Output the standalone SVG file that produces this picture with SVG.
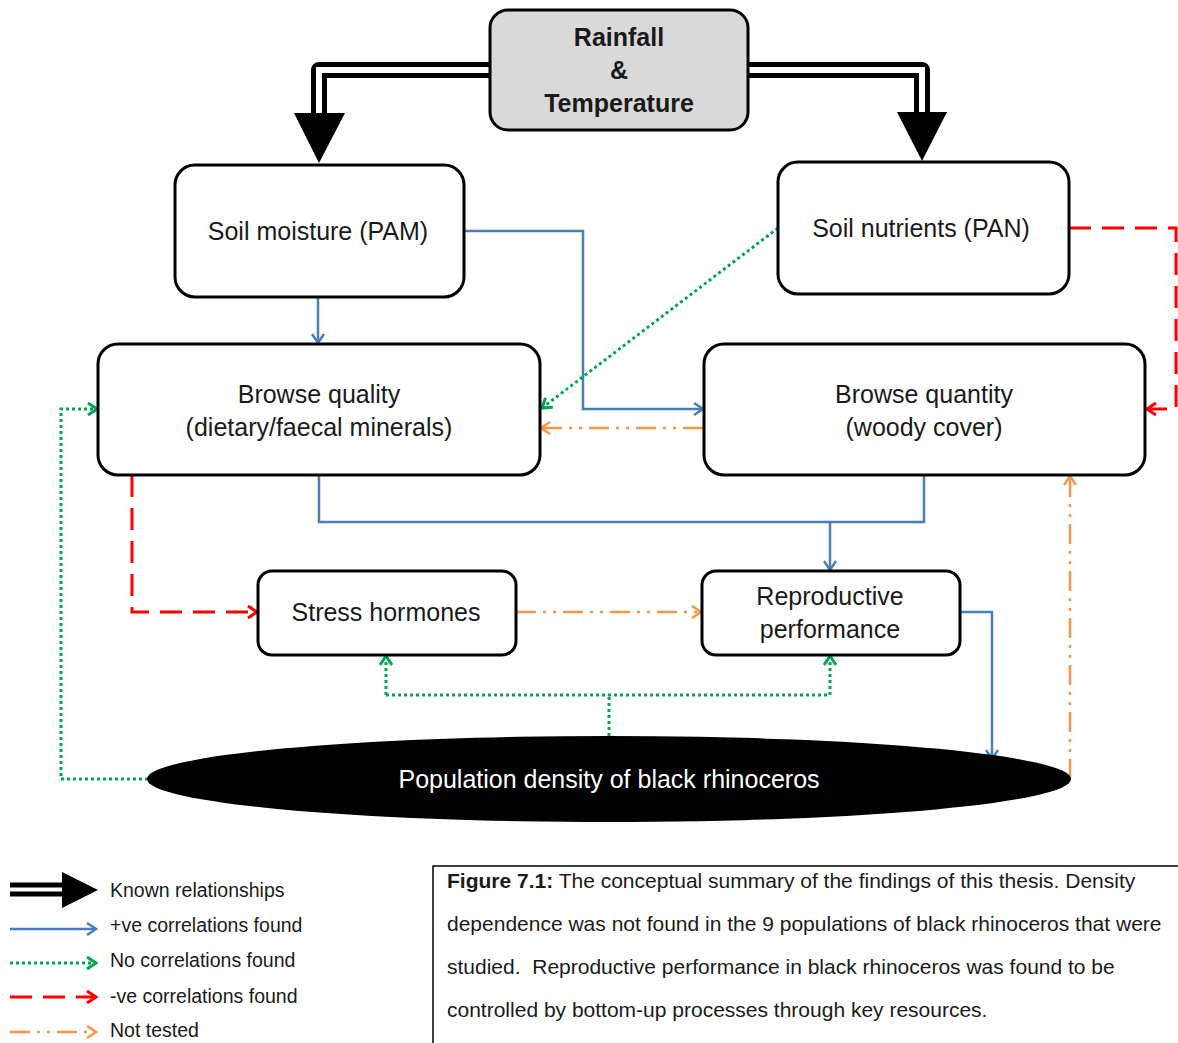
<svg xmlns="http://www.w3.org/2000/svg" width="1178" height="1043" viewBox="0 0 1178 1043">
<style>
.box{fill:#ffffff;stroke:#000;stroke-width:3}
.t{font-family:"Liberation Sans",Arial,sans-serif;font-size:25px;fill:#1a1a1a;text-anchor:middle}
.tb{font-family:"Liberation Sans",Arial,sans-serif;font-size:25px;font-weight:bold;fill:#1a1a1a;text-anchor:middle}
.lg{font-family:"Liberation Sans",Arial,sans-serif;font-size:19.5px;fill:#1a1a1a}
.cap{font-family:"Liberation Sans",Arial,sans-serif;font-size:21px;fill:#1a1a1a;white-space:pre}
.blue{fill:none;stroke:#4a7ebb;stroke-width:2.5}
.green{fill:none;stroke:#00a651;stroke-width:3;stroke-dasharray:3 3}
.red{fill:none;stroke:#ff0000;stroke-width:3;stroke-dasharray:22 11}
.orange{fill:none;stroke:#f79646;stroke-width:2.5;stroke-dasharray:20 7 3 7 3 7}
.dblo{fill:none;stroke:#000;stroke-width:16;stroke-linejoin:round}
.dbli{fill:none;stroke:#fff;stroke-width:6}
</style>
<defs>
<marker id="mB" markerUnits="userSpaceOnUse" viewBox="0 0 14 14" markerWidth="14" markerHeight="14" refX="12" refY="7" orient="auto"><path d="M3,1 L12,7 L3,13" fill="none" stroke="#4a7ebb" stroke-width="2.5"/></marker>
<marker id="mG" markerUnits="userSpaceOnUse" viewBox="0 0 14 14" markerWidth="14" markerHeight="14" refX="12" refY="7" orient="auto"><path d="M3,1 L12,7 L3,13" fill="none" stroke="#00a651" stroke-width="3"/></marker>
<marker id="mR" markerUnits="userSpaceOnUse" viewBox="0 0 14 14" markerWidth="14" markerHeight="14" refX="12" refY="7" orient="auto"><path d="M3,1 L12,7 L3,13" fill="none" stroke="#ff0000" stroke-width="3"/></marker>
<marker id="mO" markerUnits="userSpaceOnUse" viewBox="0 0 14 14" markerWidth="14" markerHeight="14" refX="12" refY="7" orient="auto"><path d="M3,1 L12,7 L3,13" fill="none" stroke="#f79646" stroke-width="2.5"/></marker>
</defs>
<rect width="1178" height="1043" fill="#ffffff"/>

<g id="connectors">
  <!-- known relationships -->
  <path class="dblo" d="M492,70 H319 V114"/>
  <path class="dbli" d="M492,70 H319 V114"/>
  <polygon points="294,113 345,113 319,163" fill="#000"/>
  <path class="dblo" d="M746,70 H922 V113"/>
  <path class="dbli" d="M746,70 H922 V113"/>
  <polygon points="897,112 947,112 922,161" fill="#000"/>
  <!-- blue -->
  <path class="blue" d="M318,297 V343" marker-end="url(#mB)"/>
  <path class="blue" d="M464,231 H583 V409 H703" marker-end="url(#mB)"/>
  <path class="blue" d="M319,475 V522 H924 V475"/>
  <path class="blue" d="M830,522 V570" marker-end="url(#mB)"/>
  <path class="blue" d="M960,612 H992 V759" marker-end="url(#mB)"/>
  <!-- green -->
  <path class="green" d="M778,228 L542,408" marker-end="url(#mG)"/>
  <path class="green" d="M148,779 H61 V409 H97" marker-end="url(#mG)"/>
  <path class="green" d="M609,736 V695"/>
  <path class="green" d="M386,695 H830"/>
  <path class="green" d="M386,695 V656" marker-end="url(#mG)"/>
  <path class="green" d="M830,695 V656" marker-end="url(#mG)"/>
  <!-- red -->
  <path class="red" d="M1069,228 H1176 V409 H1147" marker-end="url(#mR)"/>
  <path class="red" d="M132,475 V612 H257" marker-end="url(#mR)"/>
  <!-- orange -->
  <path class="orange" d="M703,428 H541" marker-end="url(#mO)"/>
  <path class="orange" d="M516,612 H701" marker-end="url(#mO)"/>
  <path class="orange" d="M1070,779 V476" marker-end="url(#mO)"/>
</g>

<g id="rainfall">
  <rect x="490" y="10" width="258" height="120" rx="18" fill="#d9d9d9" stroke="#000" stroke-width="3"/>
  <text class="tb" x="619" y="46">Rainfall</text>
  <text class="tb" x="619" y="79">&amp;</text>
  <text class="tb" x="619" y="112">Temperature</text>
</g>
<g id="soil-moisture">
  <rect class="box" x="175" y="165" width="289" height="132" rx="20"/>
  <text class="t" x="318" y="240">Soil moisture (PAM)</text>
</g>
<g id="soil-nutrients">
  <rect class="box" x="778" y="162" width="291" height="132" rx="20"/>
  <text class="t" x="921" y="237">Soil nutrients (PAN)</text>
</g>
<g id="browse-quality">
  <rect class="box" x="98" y="344" width="442" height="131" rx="20"/>
  <text class="t" x="319" y="403">Browse quality</text>
  <text class="t" x="319" y="436">(dietary/faecal minerals)</text>
</g>
<g id="browse-quantity">
  <rect class="box" x="704" y="344" width="441" height="131" rx="20"/>
  <text class="t" x="924" y="403">Browse quantity</text>
  <text class="t" x="924" y="436">(woody cover)</text>
</g>
<g id="stress-hormones">
  <rect class="box" x="258" y="571" width="258" height="84" rx="14"/>
  <text class="t" x="386" y="621">Stress hormones</text>
</g>
<g id="reproductive-performance">
  <rect class="box" x="702" y="571" width="258" height="84" rx="14"/>
  <text class="t" x="830" y="605">Reproductive</text>
  <text class="t" x="830" y="638">performance</text>
</g>
<g id="population-density">
  <ellipse cx="609" cy="779" rx="462" ry="43" fill="#000"/>
  <text class="t" x="609" y="788" style="fill:#ffffff">Population density of black rhinoceros</text>
</g>

<g id="legend">
  <path d="M10,889.5 H64" fill="none" stroke="#000" stroke-width="14"/>
  <path d="M10,889.5 H64" fill="none" stroke="#fff" stroke-width="4"/>
  <polygon points="62,872 98,890 62,908" fill="#000"/>
  <text class="lg" x="110" y="897">Known relationships</text>
  <path class="blue" d="M10,929 H96" marker-end="url(#mB)"/>
  <text class="lg" x="110" y="932">+ve correlations found</text>
  <path class="green" d="M10,963 H96" marker-end="url(#mG)"/>
  <text class="lg" x="110" y="967">No correlations found</text>
  <path class="red" d="M10,997 H96" marker-end="url(#mR)"/>
  <text class="lg" x="110" y="1003">-ve correlations found</text>
  <path class="orange" d="M10,1032 H96" marker-end="url(#mO)"/>
  <text class="lg" x="110" y="1037">Not tested</text>
</g>

<g id="caption">
  <rect x="433" y="866" width="800" height="220" fill="#fff" stroke="#000" stroke-width="1.5"/>
  <text class="cap" x="447" y="888"><tspan font-weight="bold">Figure 7.1:</tspan> The conceptual summary of the findings of this thesis. Density</text>
  <text class="cap" x="447" y="931">dependence was not found in the 9 populations of black rhinoceros that were</text>
  <text class="cap" x="447" y="974">studied.  Reproductive performance in black rhinoceros was found to be</text>
  <text class="cap" x="447" y="1017">controlled by bottom-up processes through key resources.</text>
</g>
</svg>
